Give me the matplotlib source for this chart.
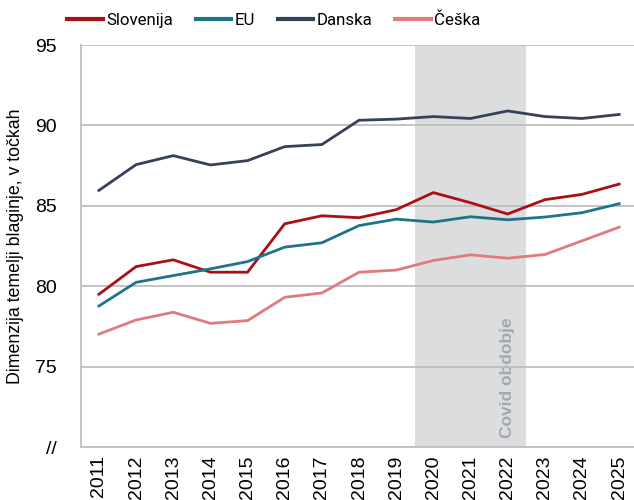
import matplotlib.pyplot as plt
from matplotlib.lines import Line2D

years = list(range(2011, 2026))

slovenija = [79.5, 81.22, 81.64, 80.87, 80.87, 83.88, 84.38, 84.26, 84.76,
             85.82, 85.19, 84.49, 85.38, 85.71, 86.35]
eu = [78.77, 80.24, 80.66, 81.08, 81.53, 82.43, 82.70, 83.77, 84.17,
      83.99, 84.32, 84.13, 84.30, 84.57, 85.13]
danska = [85.96, 87.56, 88.12, 87.54, 87.81, 88.68, 88.81, 90.32, 90.39,
          90.55, 90.43, 90.90, 90.55, 90.43, 90.68]
ceska = [77.02, 77.90, 78.38, 77.69, 77.86, 79.31, 79.58, 80.87, 81.00,
         81.60, 81.95, 81.74, 81.97, 82.82, 83.67]

series = [
    ("Slovenija", slovenija, "#A90F14"),
    ("EU", eu, "#1E7489"),
    ("Danska", danska, "#37405A"),
    ("Češka", ceska, "#E07A7C"),
]

ytick_values = [70, 75, 80, 85, 90, 95]
ytick_labels = ["//", "75", "80", "85", "90", "95"]

plt.rcParams['font.family'] = ['Liberation Sans', 'DejaVu Sans']

fig = plt.figure(figsize=(6.34, 5.0), dpi=100)
ax = fig.add_axes([0.1285, 0.106, 0.8715, 0.804])

# Covid period shading
ax.axvspan(2019.5, 2022.5, color="#DCDDDF", zorder=0, lw=0)
ax.text(2022, 70.55, "Covid obdobje", rotation=90, ha="center", va="bottom",
        fontsize=12.5, fontweight="bold", color="#A3A8AE", zorder=1)

for name, values, color in series:
    ax.plot(years, values, color=color, lw=2.0, zorder=3,
            solid_joinstyle="miter")

ax.set_xlim(2010.53, 2025.40)
ax.set_ylim(70, 95)
ax.set_xticks(years)
ax.set_xticklabels([str(y) for y in years], rotation=90, fontsize=14)
ax.set_yticks(ytick_values)
ax.set_yticklabels(ytick_labels, fontsize=14)
ax.tick_params(length=0, pad=6)
ax.tick_params(axis="y", pad=18)

ax.yaxis.grid(True, color="#BFBFBF", lw=1.3, zorder=2)
ax.set_axisbelow(False)
for side in ["top", "right"]:
    ax.spines[side].set_visible(False)
for side in ["left", "bottom"]:
    ax.spines[side].set_color("#BFBFBF")
    ax.spines[side].set_linewidth(1.3)

ax.set_ylabel("Dimenzija temelji blaginje, v točkah", fontsize=12.8,
              labelpad=8)

handles = [Line2D([0], [0], color=c, lw=3.0) for _, _, c in series]
fig.legend(handles, [s[0] for s in series], loc="center",
           bbox_to_anchor=(0.432, 0.96), ncol=4, frameon=False,
           prop={"family": "Roboto", "size": 12.2}, handlelength=2.1,
           handletextpad=0.2, columnspacing=1.35)

fig.savefig("out.png", dpi=100)
